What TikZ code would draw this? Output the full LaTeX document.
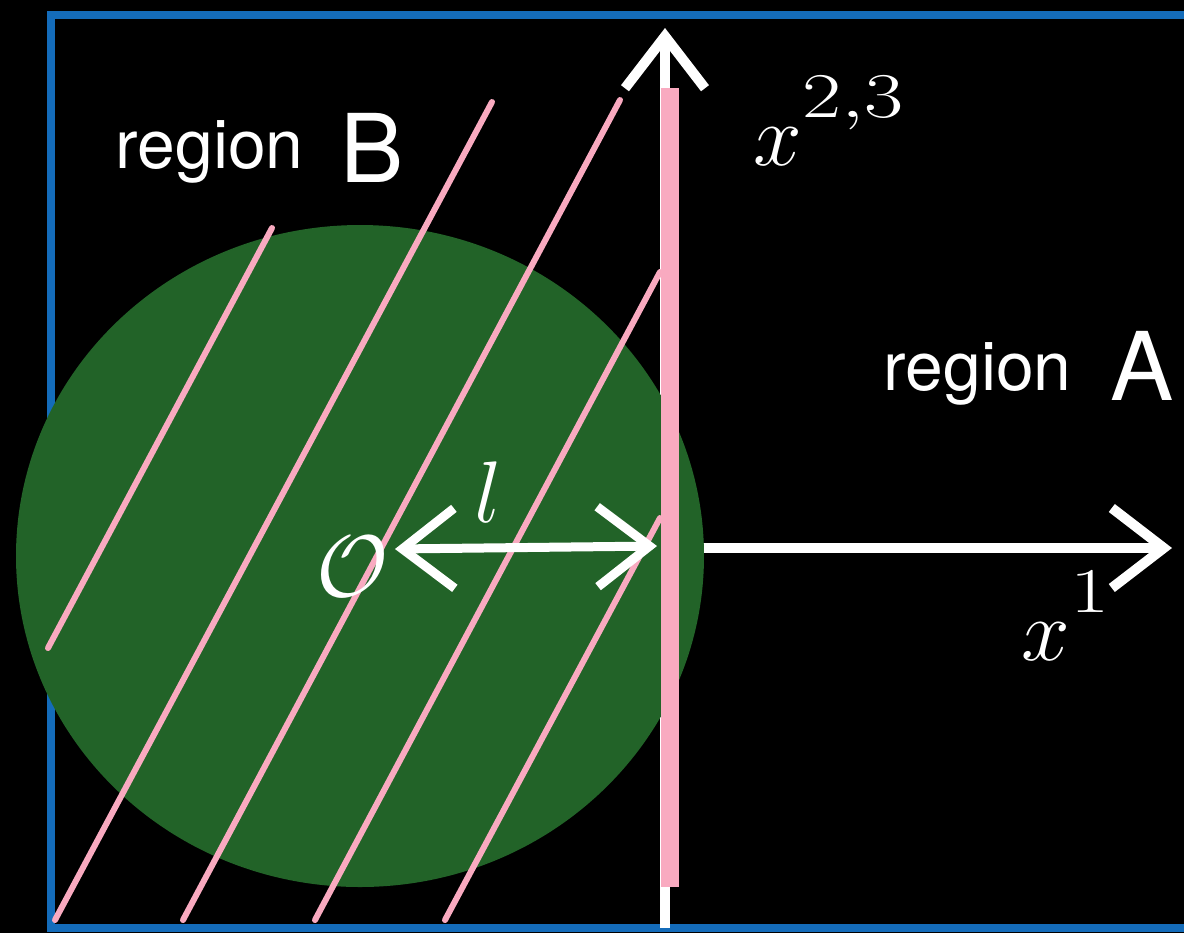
\documentclass[tikz,border=0pt]{standalone}
\usepackage{graphicx}
\usepackage{fontspec}
\setsansfont{TeX Gyre Heros}
\usetikzlibrary{arrows.meta}
\definecolor{chalkblue}{RGB}{20,108,186}
\definecolor{discgreen}{RGB}{34,99,40}
\definecolor{chalkpink}{RGB}{249,170,192}
\newcommand{\upidx}[1]{\raisebox{4.5pt}{\scalebox{1.4}[1.05]{$\scriptstyle #1$}}}

\begin{document}
\begin{tikzpicture}[x=0.1mm,y=-0.1mm,
  word/.style={text=white,inner sep=0pt,anchor=base west,font=\sffamily\fontsize{19.3}{23}\selectfont},
  letter/.style={text=white,inner sep=0pt,anchor=base west,font=\sffamily\fontsize{27}{32}\selectfont},
  sym/.style={text=white,inner sep=0pt,anchor=base west,font=\fontsize{24}{29}\selectfont},
  border/.style={draw=chalkblue,line width=0.8mm},
  hatch/.style={draw=chalkpink,line width=0.6mm,line cap=round},
  axis/.style={draw=white,line width=1mm,-{Straight Barb[length=5.2mm,width=8mm]}},
  dist/.style={draw=white,line width=0.9mm,{Straight Barb[length=5.2mm,width=8mm]}-{Straight Barb[length=5.2mm,width=8mm]}}]

\fill[black] (0,0) rectangle (1184,933);
\useasboundingbox (0,0) rectangle (1184,933);
\clip (0,0) rectangle (1184,933);

\draw[border] (1200,15) -- (51,15) -- (51,928) -- (1200,928);

\coordinate (orig) at (665,548);
\coordinate (top) at (665,28);
\coordinate (bot) at (665,928);
\coordinate (right) at (1172,548);
\draw[axis] (bot) -- (top);
\draw[axis] (orig) -- (right);

\fill[discgreen] (360,556) ellipse [x radius=34.4mm,y radius=33.1mm];

\foreach \xa/\ya/\xb/\yb in {48/648/272/228, 55/920/492/102, 183/920/620/100,
                             315/920/660/272, 445/920/660/518}
  \draw[hatch] (\xa,\ya) -- (\xb,\yb);
\draw[draw=chalkpink,line width=1.8mm] (670,88) -- (670,887);

\coordinate (ltip) at (395,549);
\coordinate (rtip) at (657,546);
\draw[dist] (ltip) -- (rtip);

\node[sym,font=\fontsize{27.6}{33}\selectfont] (O) at (316,596) {$\mathcal{O}$};
\node[sym,font=\fontsize{27.6}{33}\selectfont] (len) at (474,522) {$l$};
\node[sym] (xperp) at (753,165) {$x^{\upidx{2,3}}$};
\node[sym] (xone) at (1021,660) {$x^{\upidx{1}}$};

\node[word] (regB) at (115,168) {region};
\node[letter] (B) at (340,182) {B};
\node[word] (regA) at (883,390) {region};
\node[letter] (A) at (1110,400) {A};
\end{tikzpicture}
\end{document}
